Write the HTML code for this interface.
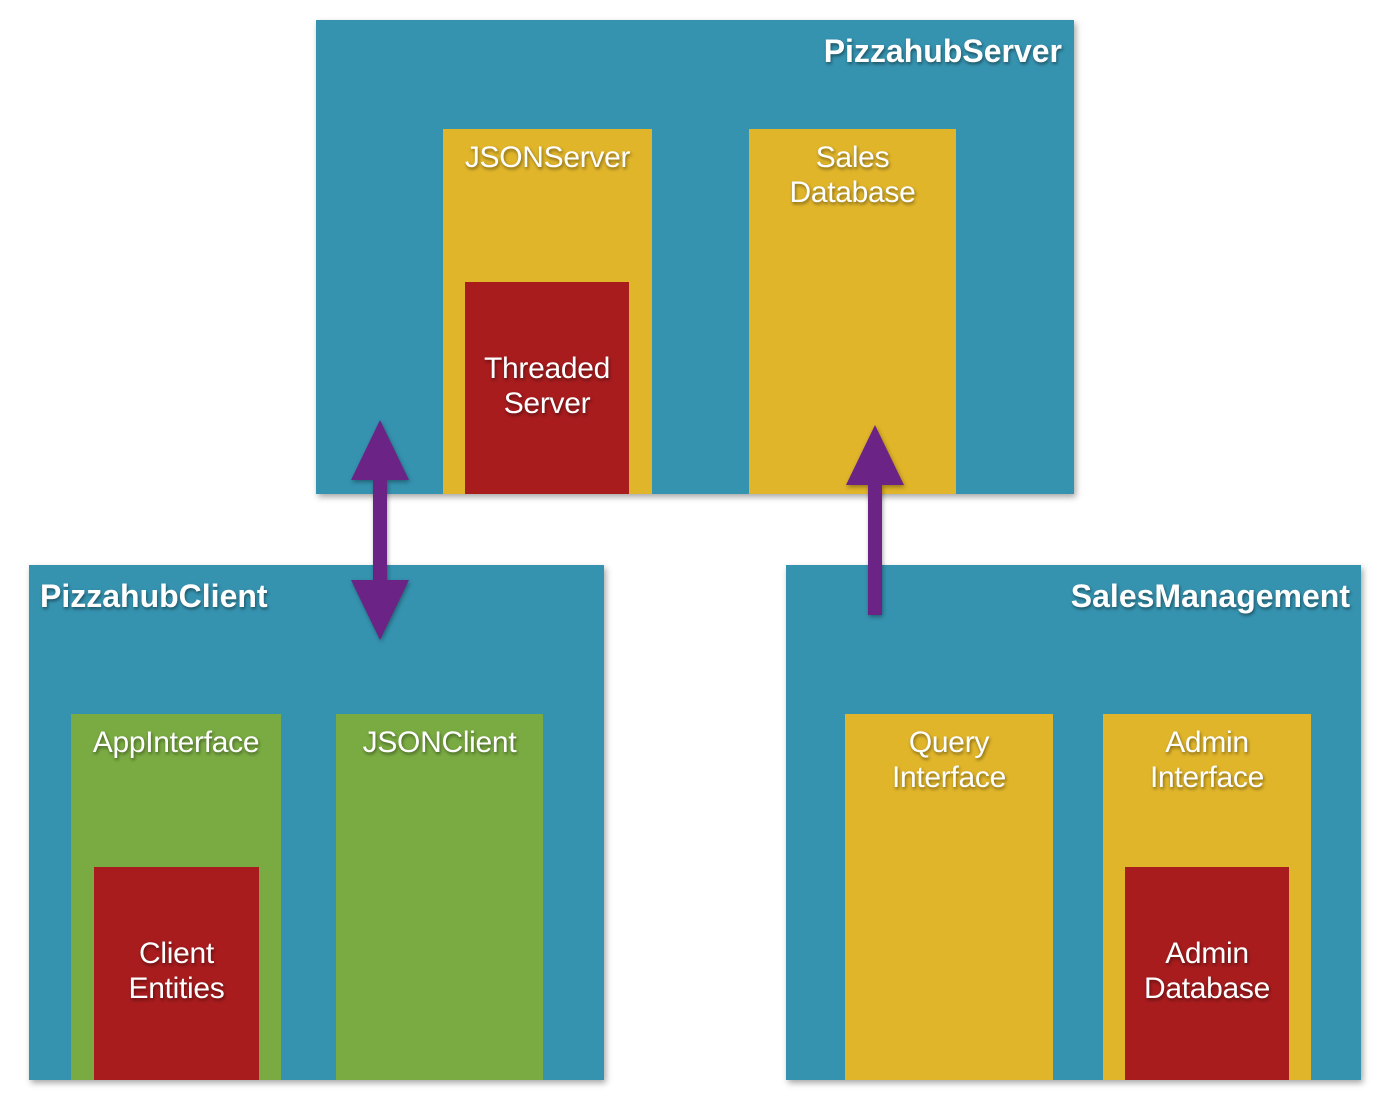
<!DOCTYPE html>
<html><head><style>
body{margin:0;width:1392px;height:1096px;background:#fff;position:relative;overflow:hidden;font-family:"Liberation Sans",Arial,sans-serif;}
.b{position:absolute;box-sizing:border-box;}
.t{background:#3593b0;box-shadow:2px 3px 6px rgba(0,0,0,0.35);}
.y{background:#e0b52a;}
.g{background:#7aab42;}
.r{background:#a81c1e;}
.lbl{position:absolute;color:#fff;text-shadow:1px 2px 3px rgba(0,0,0,0.45);font-size:30px;line-height:35px;text-align:center;left:-20px;right:-20px;letter-spacing:-0.3px;}
.ti{position:absolute;color:#fff;font-weight:bold;font-size:32px;text-shadow:1px 2px 3px rgba(0,0,0,0.45);}
</style></head><body>
<div class="b t" style="left:316px;top:20px;width:758px;height:474px"></div>
<div class="ti" style="right:330px;top:33px">PizzahubServer</div>
<div class="b y" style="left:443px;top:129px;width:209px;height:365px"><div class="lbl" style="top:11px">JSONServer</div></div>
<div class="b r" style="left:465px;top:282px;width:164px;height:212px"><div class="lbl" style="top:69px">Threaded<br>Server</div></div>
<div class="b y" style="left:749px;top:129px;width:207px;height:365px"><div class="lbl" style="top:11px">Sales<br>Database</div></div>

<div class="b t" style="left:29px;top:565px;width:575px;height:515px"></div>
<div class="ti" style="left:40px;top:578px">PizzahubClient</div>
<div class="b g" style="left:71px;top:714px;width:210px;height:366px"><div class="lbl" style="top:11px">AppInterface</div></div>
<div class="b r" style="left:94px;top:867px;width:165px;height:213px"><div class="lbl" style="top:69px">Client<br>Entities</div></div>
<div class="b g" style="left:336px;top:714px;width:207px;height:366px"><div class="lbl" style="top:11px">JSONClient</div></div>

<div class="b t" style="left:786px;top:565px;width:575px;height:515px"></div>
<div class="ti" style="right:42px;top:578px">SalesManagement</div>
<div class="b y" style="left:845px;top:714px;width:208px;height:366px"><div class="lbl" style="top:11px">Query<br>Interface</div></div>
<div class="b y" style="left:1103px;top:714px;width:208px;height:366px"><div class="lbl" style="top:11px">Admin<br>Interface</div></div>
<div class="b r" style="left:1125px;top:867px;width:164px;height:213px"><div class="lbl" style="top:69px">Admin<br>Database</div></div>

<svg width="1392" height="1096" style="position:absolute;left:0;top:0">
<g fill="#6b2485" style="filter:drop-shadow(1px 2px 2px rgba(0,0,0,0.35))">
<rect x="373" y="475" width="14" height="110"/>
<polygon points="380,420 351,480 409,480"/>
<polygon points="380,640 351,580 409,580"/>
<rect x="868" y="480" width="14" height="135"/>
<polygon points="875,425 846,485 904,485"/>
</g></svg>
</body></html>
